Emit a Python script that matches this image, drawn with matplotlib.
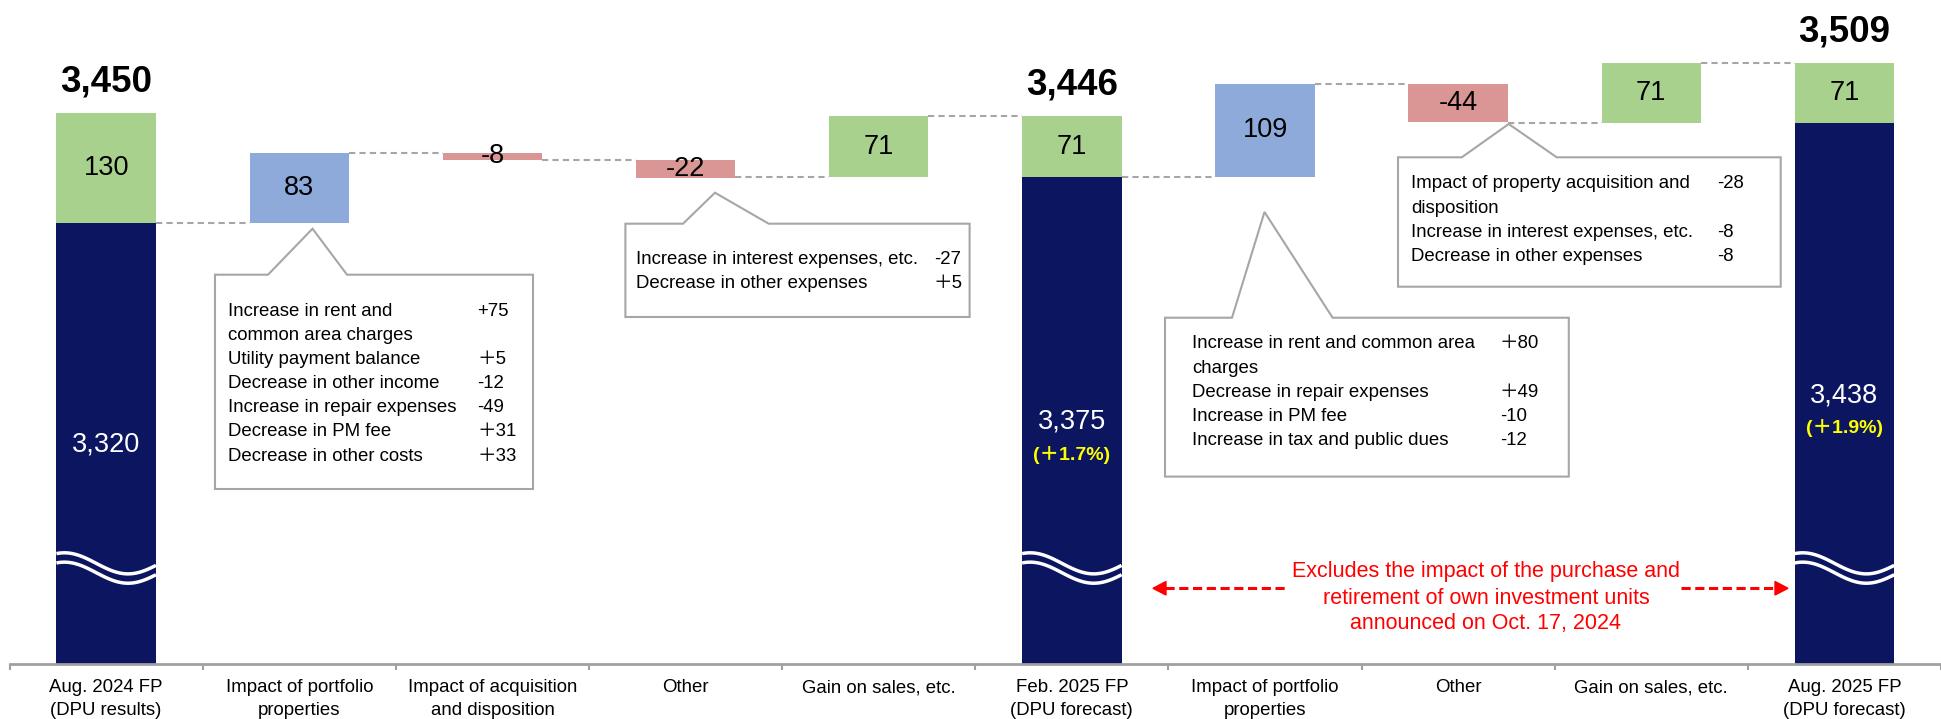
import matplotlib
matplotlib.use('Agg')
import matplotlib.pyplot as plt
import numpy as np
from matplotlib.patches import Polygon
from matplotlib.transforms import Affine2D, blended_transform_factory

plt.rcParams['font.family'] = ['Liberation Sans', 'Noto Sans CJK JP']

# ---- data ----
categories = ['Aug. 2024 FP\n(DPU results)', 'Impact of portfolio\nproperties',
              'Impact of acquisition\nand disposition', 'Other', 'Gain on sales, etc.',
              'Feb. 2025 FP\n(DPU forecast)', 'Impact of portfolio\nproperties', 'Other',
              'Gain on sales, etc.', 'Aug. 2025 FP\n(DPU forecast)']

period_idx = [0, 5, 9]
period_base = [3320, 3375, 3438]
period_gain = [130, 71, 71]
period_pct = ['', '(＋1.7%)', '(＋1.9%)']

step_idx = [1, 2, 3, 6, 7]
step_delta = [83, -8, -22, 109, -44]

gain_idx = [4, 8]
gain_delta = [71, 71]

box1 = [('Increase in rent and', '+75'), ('common area charges', ''),
        ('Utility payment balance', '＋5'), ('Decrease in other income', '-12'),
        ('Increase in repair expenses', '-49'), ('Decrease in PM fee', '＋31'),
        ('Decrease in other costs', '＋33')]
box2 = [('Increase in interest expenses, etc.', '-27'), ('Decrease in other expenses', '＋5')]
box3 = [('Increase in rent and common area', '＋80'), ('charges', ''),
        ('Decrease in repair expenses', '＋49'), ('Increase in PM fee', '-10'),
        ('Increase in tax and public dues', '-12')]
box4 = [('Impact of property acquisition and', '-28'), ('disposition', ''),
        ('Increase in interest expenses, etc.', '-8'), ('Decrease in other expenses', '-8')]

note_lines = ['Excludes the impact of the purchase and',
              'retirement of own investment units',
              'announced on Oct. 17, 2024']

NAVY = '#0b1560'
GREEN = '#a9d18e'
BLUE = '#8eaadb'
RED = '#d99694'
GRAY = '#a6a6a6'

W, H = 1941, 719
fig = plt.figure(figsize=(W / 100, H / 100), dpi=100)
ax = fig.add_axes([9.6 / W, 55.4 / H, (W - 9.6) / W, 1 - 55.4 / H])
Y0, Y1 = 2802, 3583
ax.set_xlim(-0.5, 9.44)
ax.set_ylim(Y0, Y1)
pix = Affine2D().scale(1.0 / W, -1.0 / H).translate(0, 1) + fig.transFigure
xpix = blended_transform_factory(ax.transData, pix)

bw = 0.515
navy_label_y = [3060, 3087, 3118]

# ---- bars ----
run = None
tops = {}
bottoms = {}
for i in range(len(categories)):
    if i in period_idx:
        k = period_idx.index(i)
        b, g = period_base[k], period_gain[k]
        ax.bar(i, b - Y0, bottom=Y0, width=bw, color=NAVY, zorder=2)
        ax.bar(i, g, bottom=b, width=bw, color=GREEN, zorder=2)
        ax.text(i, b + g / 2, f'{g}', ha='center', va='center', fontsize=19.5, zorder=4)
        ax.text(i, navy_label_y[k], f'{b:,}', ha='center', va='center', fontsize=19.5,
                color='white', zorder=4)
        if period_pct[k]:
            ax.annotate(period_pct[k], (i, navy_label_y[k]), xytext=(0, -24),
                        textcoords='offset points', ha='center', va='center',
                        fontsize=14, fontweight='bold', color='#ffff00', zorder=4)
        ax.annotate(f'{b + g:,}', (i, b + g), xytext=(0, 15.5), textcoords='offset points',
                    ha='center', va='baseline', fontsize=26.5, fontweight='bold')
        # wavy break marks
        t = np.linspace(0, 1, 80)
        xs = i - bw / 2 + bw * t
        wave = 12.4 * np.cos(np.pi * (t - 0.08) / 0.64)
        for yc in (2920, 2909):
            ax.plot(xs, yc + wave, color='white', lw=2.5, zorder=3, solid_capstyle='butt')
        bottoms[i], tops[i] = b, b + g
        run = b
    elif i in step_idx:
        d = step_delta[step_idx.index(i)]
        ax.bar(i, d, bottom=run, width=bw, color=BLUE if d > 0 else RED, zorder=2)
        ax.text(i, run + d / 2, f'{d}', ha='center', va='center', fontsize=19.5, zorder=4)
        bottoms[i], tops[i] = run, run + d
        run += d
    else:
        g = gain_delta[gain_idx.index(i)]
        nb = period_base[period_idx.index(i + 1)]
        ax.bar(i, g, bottom=nb, width=bw, color=GREEN, zorder=2)
        ax.text(i, nb + g / 2, f'{g}', ha='center', va='center', fontsize=19.5, zorder=4)
        bottoms[i], tops[i] = nb, nb + g

# ---- connectors ----
for i in range(len(categories) - 1):
    if i in period_idx:
        lev = bottoms[i]
    elif i in step_idx:
        lev = tops[i] if (i + 1) in step_idx else bottoms[i + 1]
    else:
        lev = tops[i]
    ax.plot([i + bw / 2, i + 1 - bw / 2], [lev, lev], color=GRAY, lw=1.5,
            ls=(0, (3, 2)), zorder=1)

# ---- callout boxes ----
callouts = [
    (box1, (215, 274.7, 533, 489), (268, 312.5, 228.7, 347), 228, 477, 310),
    (box2, (625.4, 223.7, 969.6, 317), (683, 715, 192.7, 768.7), 636, 934, 258),
    (box3, (1165, 317.7, 1568.8, 476.6), (1232, 1264.5, 212, 1332.6), 1192, 1500, 343),
    (box4, (1398, 157.3, 1780.7, 286.7), (1461.8, 1508.7, 124, 1556.7), 1411, 1717, 183),
]
for lines, (l, tp, r, bt), (bl, ax_, ay, br), tx, vx, y_first in callouts:
    verts = [(l, tp), (bl, tp), (ax_, ay), (br, tp), (r, tp), (r, bt), (l, bt)]
    ax.add_patch(Polygon(verts, closed=True, transform=pix, facecolor='white',
                         edgecolor=GRAY, lw=1.5, zorder=5, clip_on=False))
    for n, (s, v) in enumerate(lines):
        y = y_first + 24.2 * n + 5.5
        ax.text(tx, y, s, transform=pix, fontsize=13.4, va='baseline', ha='left', zorder=6)
        if v:
            ax.text(vx, y, v, transform=pix, fontsize=13.4, va='baseline', ha='left', zorder=6)

# ---- red note with dashed arrows ----
for n, s in enumerate(note_lines):
    ax.text(1486, 577.5 + 26 * n, s, transform=pix, fontsize=15.5, color='#ff0000',
            ha='center', va='baseline')
ax.plot([1165, 1285], [588.3, 588.3], transform=pix, color='#ff0000', lw=2.2,
        ls=(0, (3, 1.5)), clip_on=False)
ax.plot([1681, 1776], [588.3, 588.3], transform=pix, color='#ff0000', lw=2.2,
        ls=(0, (3, 1.5)), clip_on=False)
ax.add_patch(Polygon([(1153, 588.3), (1166, 581.5), (1166, 595)], closed=True,
                     transform=pix, color='#ff0000', clip_on=False))
ax.add_patch(Polygon([(1788, 588.3), (1775, 581.5), (1775, 595)], closed=True,
                     transform=pix, color='#ff0000', clip_on=False))

# ---- category labels (one text per line for even spacing) ----
for i, lab in enumerate(categories):
    for n, part in enumerate(lab.split('\n')):
        ax.text(i, 692.3 + 22.7 * n, part, transform=xpix, fontsize=13.4,
                ha='center', va='baseline', clip_on=False)

# ---- axes styling ----
ax.set_xticks([])
ax.set_xticks(np.arange(-0.5, len(categories), 1), minor=True)
ax.tick_params(axis='x', which='minor', length=4, width=1.5, color='#a0a0a0')
ax.set_yticks([])
for sp in ('left', 'right', 'top'):
    ax.spines[sp].set_visible(False)
ax.spines['bottom'].set_color('#a0a0a0')
ax.spines['bottom'].set_linewidth(2)
ax.set_facecolor('none')

fig.savefig('out.png', dpi=100)
